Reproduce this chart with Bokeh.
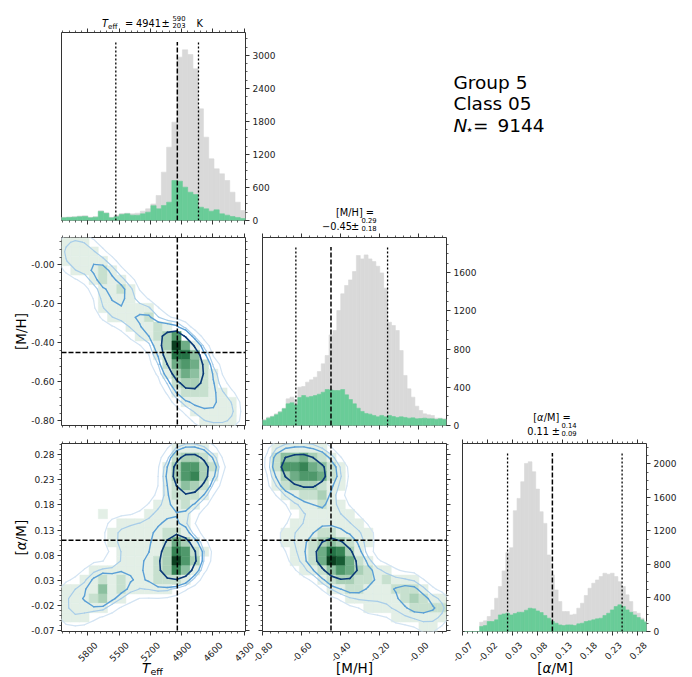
import numpy as np
from math import pi
from bokeh.plotting import figure
from bokeh.models import (Range1d, LinearAxis, FixedTicker, CustomJSTickFormatter, Span)
from bokeh.core.properties import value
from bokeh.embed import file_html
from bokeh.resources import INLINE

W, H = 692, 677
FONT = "DejaVu Sans"

# ------------------------------------------------------------------ data
teff_median, teff_plus, teff_minus = 4941, 590, 203
mh_median, mh_plus, mh_minus = -0.45, 0.29, 0.18
am_median, am_plus, am_minus = 0.11, 0.14, 0.09
n_stars = 9144

teff_range = (6052, 4287)
mh_range_x = (-0.801, 0.142)
mh_range_y = (-0.824, 0.14)
am_range_x = (-0.0705, 0.299)
am_range_y = (-0.071, 0.302)

teff_count_max = 3418
mh_count_max = 1969
am_count_max = 2243

# Teff histogram: 35 bins from 6052 K down to 4287 K
teff_edges = np.linspace(6052, 4287, 36)
teff_all = [58, 65, 70, 81, 87, 58, 70, 175, 140, 58, 95, 125, 133, 121, 133, 170,
            212, 300, 455, 879, 1333, 1788, 2970, 3103, 3018, 2757, 2030, 1515, 1121,
            939, 848, 727, 515, 333, 182]
teff_class = [48, 55, 60, 67, 73, 48, 60, 165, 130, 48, 70, 110, 121, 97, 97, 121,
              152, 270, 212, 273, 333, 727, 715, 606, 515, 473, 242, 212, 170, 194,
              121, 97, 73, 55, 36]

# [M/H] histogram: bins of 0.02 from -0.80
mh_edges = -0.80 + 0.02 * np.arange(48)
mh_all = [63, 87, 98, 122, 147, 181, 279, 297, 272, 401, 408, 454, 478, 506, 565, 646,
          733, 949, 995, 1204, 1379, 1466, 1525, 1612, 1780, 1745, 1787, 1745, 1717,
          1668, 1598, 1438, 1082, 1047, 995, 785, 524, 384, 297, 202, 157, 122, 112,
          105, 77, 77, 70]
mh_class = [52, 77, 91, 112, 140, 175, 227, 237, 216, 293, 314, 297, 304, 314, 328, 349,
            377, 373, 366, 366, 377, 321, 272, 227, 181, 147, 126, 119, 105, 91, 105,
            91, 105, 94, 84, 91, 84, 77, 80, 70, 73, 77, 70, 70, 63, 70, 63]

# [alpha/M] histogram: bins of 0.0075 from -0.066
am_edges = -0.066 + 0.0075 * np.arange(50)
am_all = [0, 0, 0, 0, 111, 127, 179, 258, 397, 536, 723, 941, 1000, 1441, 1588, 1787,
          2005, 2025, 1906, 1699, 1429, 1290, 913, 675, 496, 357, 238, 238, 198, 206,
          278, 337, 429, 516, 576, 615, 655, 695, 683, 695, 655, 595, 536, 437, 357,
          238, 218, 159, 119]
am_class = [0, 0, 0, 0, 60, 71, 119, 119, 139, 198, 210, 218, 198, 214, 230, 230, 254,
            278, 270, 246, 226, 191, 159, 119, 99, 79, 71, 79, 79, 71, 91, 99, 119, 127,
            139, 151, 159, 191, 218, 258, 298, 318, 298, 258, 230, 198, 167, 139, 111]

# 2D density grids (20 x 20, rows listed from top of panel, relative density 0-10)
grid_mh_teff = [
    [1, 1, 1, 0, 0, 0, 0, 0, 0, 0, 0, 0, 0, 0, 0, 0, 0, 0, 0, 0],
    [1, 1, 1, 1, 0, 0, 0, 0, 0, 0, 0, 0, 0, 0, 0, 0, 0, 0, 0, 0],
    [1, 1, 1, 1, 1, 0, 0, 0, 0, 0, 0, 0, 0, 0, 0, 0, 0, 0, 0, 0],
    [0, 1, 1, 1, 2, 1, 0, 0, 0, 0, 0, 0, 0, 0, 0, 0, 0, 0, 0, 0],
    [0, 0, 0, 1, 2, 1, 1, 0, 0, 0, 0, 0, 0, 0, 0, 0, 0, 0, 0, 0],
    [0, 0, 0, 0, 1, 1, 2, 1, 0, 0, 0, 0, 0, 0, 0, 0, 0, 0, 0, 0],
    [0, 0, 0, 0, 1, 1, 1, 1, 0, 0, 0, 0, 0, 0, 0, 0, 0, 0, 0, 0],
    [0, 0, 0, 0, 1, 1, 1, 1, 1, 1, 0, 0, 0, 0, 0, 0, 0, 0, 0, 0],
    [0, 0, 0, 0, 0, 1, 1, 1, 1, 2, 0, 0, 0, 0, 0, 0, 0, 0, 0, 0],
    [0, 0, 0, 0, 0, 0, 0, 1, 1, 1, 2, 1, 0, 0, 0, 0, 0, 0, 0, 0],
    [0, 0, 0, 0, 0, 0, 0, 0, 1, 1, 2, 3, 6, 0, 0, 0, 0, 0, 0, 0],
    [0, 0, 0, 0, 0, 0, 0, 0, 0, 0, 1, 3, 10, 5, 1, 0, 0, 0, 0, 0],
    [0, 0, 0, 0, 0, 0, 0, 0, 0, 0, 1, 2, 8, 8, 4, 0, 0, 0, 0, 0],
    [0, 0, 0, 0, 0, 0, 0, 0, 0, 0, 0, 2, 5, 6, 5, 2, 0, 0, 0, 0],
    [0, 0, 0, 0, 0, 0, 0, 0, 0, 0, 0, 1, 3, 5, 4, 2, 1, 0, 0, 0],
    [0, 0, 0, 0, 0, 0, 0, 0, 0, 0, 0, 0, 2, 3, 3, 2, 1, 0, 0, 0],
    [0, 0, 0, 0, 0, 0, 0, 0, 0, 0, 0, 0, 1, 2, 2, 2, 1, 1, 0, 0],
    [0, 0, 0, 0, 0, 0, 0, 0, 0, 0, 0, 0, 0, 1, 1, 1, 1, 1, 1, 0],
    [0, 0, 0, 0, 0, 0, 0, 0, 0, 0, 0, 0, 0, 0, 1, 1, 1, 1, 1, 0],
    [0, 0, 0, 0, 0, 0, 0, 0, 0, 0, 0, 0, 0, 0, 0, 1, 1, 1, 1, 0],
]
grid_am_teff = [
    [0, 0, 0, 0, 0, 0, 0, 0, 0, 0, 0, 0, 1, 1, 1, 1, 0, 0, 0, 0],
    [0, 0, 0, 0, 0, 0, 0, 0, 0, 0, 0, 0, 2, 3, 3, 2, 1, 0, 0, 0],
    [0, 0, 0, 0, 0, 0, 0, 0, 0, 0, 0, 1, 3, 6, 6, 3, 2, 0, 0, 0],
    [0, 0, 0, 0, 0, 0, 0, 0, 0, 0, 0, 1, 3, 6, 7, 3, 1, 0, 0, 0],
    [0, 0, 0, 0, 0, 0, 0, 0, 0, 0, 0, 1, 2, 4, 3, 2, 0, 0, 0, 0],
    [0, 0, 0, 0, 0, 0, 0, 0, 0, 0, 0, 1, 2, 2, 2, 1, 0, 0, 0, 0],
    [0, 0, 0, 0, 0, 0, 0, 0, 0, 0, 1, 1, 1, 2, 1, 0, 0, 0, 0, 0],
    [0, 0, 0, 0, 1, 0, 0, 0, 0, 1, 1, 1, 1, 1, 0, 0, 0, 0, 0, 0],
    [0, 0, 0, 0, 0, 0, 1, 1, 1, 1, 1, 1, 1, 1, 0, 0, 0, 0, 0, 0],
    [0, 0, 0, 0, 0, 1, 1, 1, 1, 1, 1, 2, 2, 1, 0, 0, 0, 0, 0, 0],
    [0, 0, 0, 0, 0, 1, 1, 1, 1, 1, 1, 2, 5, 3, 1, 0, 0, 0, 0, 0],
    [0, 0, 0, 0, 0, 0, 1, 1, 1, 1, 1, 3, 7, 6, 2, 1, 0, 0, 0, 0],
    [0, 0, 0, 0, 0, 0, 1, 1, 1, 1, 2, 3, 10, 6, 3, 0, 0, 0, 0, 0],
    [0, 0, 0, 1, 1, 1, 1, 1, 1, 1, 2, 3, 7, 4, 1, 0, 0, 0, 0, 0],
    [0, 0, 1, 1, 2, 1, 2, 1, 1, 1, 2, 2, 2, 1, 0, 0, 0, 0, 0, 0],
    [1, 1, 1, 1, 4, 1, 2, 1, 1, 1, 1, 1, 0, 0, 0, 0, 0, 0, 0, 0],
    [1, 1, 1, 2, 3, 1, 1, 0, 0, 0, 0, 0, 0, 0, 0, 0, 0, 0, 0, 0],
    [1, 1, 1, 1, 1, 0, 0, 0, 0, 0, 0, 0, 0, 0, 0, 0, 0, 0, 0, 0],
    [1, 1, 1, 0, 0, 0, 0, 0, 0, 0, 0, 0, 0, 0, 0, 0, 0, 0, 0, 0],
    [0, 0, 0, 0, 0, 0, 0, 0, 0, 0, 0, 0, 0, 0, 0, 0, 0, 0, 0, 0],
]
grid_am_mh = [
    [0, 1, 1, 1, 1, 1, 1, 0, 0, 0, 0, 0, 0, 0, 0, 0, 0, 0, 0, 0],
    [0, 2, 4, 4, 5, 3, 2, 1, 0, 0, 0, 0, 0, 0, 0, 0, 0, 0, 0, 0],
    [0, 2, 6, 6, 7, 5, 4, 2, 1, 0, 0, 0, 0, 0, 0, 0, 0, 0, 0, 0],
    [0, 1, 3, 5, 6, 6, 5, 2, 1, 0, 0, 0, 0, 0, 0, 0, 0, 0, 0, 0],
    [0, 1, 2, 3, 3, 3, 2, 1, 1, 0, 0, 0, 0, 0, 0, 0, 0, 0, 0, 0],
    [0, 0, 1, 1, 2, 2, 3, 1, 0, 0, 0, 0, 0, 0, 0, 0, 0, 0, 0, 0],
    [0, 0, 0, 1, 1, 1, 2, 1, 1, 0, 0, 0, 0, 0, 0, 0, 0, 0, 0, 0],
    [0, 0, 0, 0, 1, 1, 1, 1, 1, 1, 0, 0, 0, 0, 0, 0, 0, 0, 0, 0],
    [0, 0, 0, 1, 1, 1, 1, 1, 1, 1, 1, 0, 0, 0, 0, 0, 0, 0, 0, 0],
    [0, 0, 1, 1, 1, 1, 2, 2, 1, 1, 1, 1, 0, 0, 0, 0, 0, 0, 0, 0],
    [0, 0, 1, 1, 1, 2, 3, 4, 3, 2, 1, 1, 0, 0, 0, 0, 0, 0, 0, 0],
    [0, 0, 0, 1, 1, 2, 5, 8, 7, 3, 1, 0, 0, 0, 0, 0, 0, 0, 0, 0],
    [0, 0, 0, 1, 1, 2, 5, 10, 9, 5, 2, 1, 0, 0, 0, 0, 0, 0, 0, 0],
    [0, 0, 0, 0, 1, 1, 2, 4, 6, 5, 3, 2, 1, 1, 0, 0, 0, 0, 0, 0],
    [0, 0, 0, 0, 0, 0, 1, 2, 3, 3, 2, 2, 1, 2, 1, 1, 1, 0, 0, 0],
    [0, 0, 0, 0, 0, 0, 0, 1, 1, 2, 2, 1, 1, 1, 2, 2, 2, 1, 0, 0],
    [0, 0, 0, 0, 0, 0, 0, 0, 0, 1, 1, 1, 1, 1, 1, 2, 3, 2, 1, 1],
    [0, 0, 0, 0, 0, 0, 0, 0, 0, 0, 0, 1, 1, 1, 1, 1, 2, 2, 2, 2],
    [0, 0, 0, 0, 0, 0, 0, 0, 0, 0, 0, 0, 0, 0, 1, 1, 1, 1, 1, 1],
    [0, 0, 0, 0, 0, 0, 0, 0, 0, 0, 0, 0, 0, 0, 0, 0, 0, 1, 1, 0],
]

# tick definitions
teff_ticks = [5800, 5500, 5200, 4900, 4600, 4300]
teff_tick_labels = ["5800", "5500", "5200", "4900", "4600", "4300"]
mh_ticks = [-0.8, -0.6, -0.4, -0.2, 0.0]
mh_tick_labels = ["-0.80", "-0.60", "-0.40", "-0.20", "-0.00"]
am_ticks = [-0.07, -0.02, 0.03, 0.08, 0.13, 0.18, 0.23, 0.28]
am_tick_labels = ["-0.07", "-0.02", "0.03", "0.08", "0.13", "0.18", "0.23", "0.28"]
teff_count_ticks = [0, 600, 1200, 1800, 2400, 3000]
mh_count_ticks = [0, 400, 800, 1200, 1600]
am_count_ticks = [0, 400, 800, 1200, 1600, 2000]

teff_minor = list(np.arange(4240, 6100, 60))
mh_minor = list(np.round(np.arange(-0.84, 0.17, 0.04), 2))
am_minor = list(np.round(np.arange(-0.07, 0.31, 0.01), 2))

# ------------------------------------------------------------------ style
GREY = "#d9d9d9"
GREEN = "#69cc98"
TICK = "#333333"
CONTOUR_MASS = [0.393, 0.675, 0.865, 0.956]
CONTOUR_COLORS = ["#0b3a78", "#5a9fd6", "#a8cde9", "#d3e4f3"]
CONTOUR_WIDTHS = [1.6, 1.4, 1.2, 1.2]
CMAP_STOPS = [(0.0, (255, 255, 255)), (0.1, (227, 239, 230)), (0.25, (185, 216, 195)),
              (0.45, (125, 184, 148)), (0.65, (63, 141, 93)), (0.85, (29, 106, 62)),
              (1.0, (11, 63, 32))]

COL_LEFT = [61, 262, 462]
ROW_TOP = [32, 237, 443]
FW, FH = 184, 188
ABS = {"position": "absolute", "left": "0px", "top": "0px"}
BASE_SHIFT = 0.35   # em correction so that the given y is the glyph baseline


def cmap(v):
    v = min(max(v, 0.0), 1.0)
    for (a, ca), (b, cb) in zip(CMAP_STOPS[:-1], CMAP_STOPS[1:]):
        if v <= b:
            t = (v - a) / (b - a)
            c = [int(round(ca[k] + t * (cb[k] - ca[k]))) for k in range(3)]
            return "#%02x%02x%02x" % tuple(c)
    return "#0b3f20"


def blank_fig(xr, yr, left, right, top, bottom):
    p = figure(width=W, height=H, x_range=Range1d(*xr), y_range=Range1d(*yr), title=None,
               output_backend="svg", toolbar_location=None,
               x_axis_type=None, y_axis_type=None,
               min_border_left=left, min_border_right=right,
               min_border_top=top, min_border_bottom=bottom, styles=ABS)
    p.background_fill_color = None
    p.border_fill_color = None
    p.outline_line_color = None
    return p


def panel(xr, yr, col, row):
    left, top = COL_LEFT[col], ROW_TOP[row]
    p = blank_fig(xr, yr, left, W - left - FW, top, H - top - FH)
    p.outline_line_color = "#333333"
    p.outline_line_width = 1
    return p


def add_axis(p, side, ticks, minor, labels=None):
    ax = LinearAxis(ticker=FixedTicker(ticks=list(ticks), minor_ticks=list(minor)))
    ax.axis_line_color = None
    ax.major_tick_in = 0
    ax.major_tick_out = 4
    ax.minor_tick_in = 0
    ax.minor_tick_out = 2
    ax.major_tick_line_color = TICK
    ax.minor_tick_line_color = TICK
    ax.minor_tick_line_width = 0.8
    if labels is None:
        ax.formatter = CustomJSTickFormatter(code="return ''")
        ax.major_label_text_font_size = "1px"
    else:
        ax.major_label_overrides = {t: l for t, l in zip(ticks, labels)}
        ax.major_label_text_font = FONT
        ax.major_label_text_font_size = "9px"
        ax.major_label_text_color = "#222222"
        ax.major_label_standoff = 3
    p.add_layout(ax, side)


def label_strip(xr, col, ticks, labels):
    """45-degree tick labels under a bottom-row panel, on the panel's own x scale."""
    left = COL_LEFT[col]
    rpp = (xr[1] - xr[0]) / FW
    xs = (xr[0] - left * rpp, xr[1] + (W - left - FW) * rpp)
    top = ROW_TOP[2] + FH
    s = blank_fig(xs, (H - top, 0), 0, 0, top, 0)
    s.text(x=list(ticks), y=[12] * len(ticks), text=list(labels), angle=pi / 4,
           x_offset=8, text_align="right", text_baseline="middle",
           text_font=value(FONT), text_font_size="9px", text_color="#222222")
    return s


def hist_panel(edges, all_counts, class_counts, xr, ymax, col, row, xticks, xminor,
               yticks, yminor, median, plus, minus):
    p = panel(xr, (0, ymax), col, row)
    e = np.asarray(edges)
    n = len(all_counts)
    p.quad(left=e[:n], right=e[1:n + 1], bottom=0, top=all_counts,
           fill_color=GREY, line_color=GREY, line_width=0.6)
    p.quad(left=e[:n], right=e[1:n + 1], bottom=0, top=class_counts,
           fill_color=GREEN, line_color=GREEN, line_width=0.6)
    ytop = 0.95 * ymax
    p.segment(x0=[median], y0=[0], x1=[median], y1=[ytop], line_color="black",
              line_width=1.5, line_dash="5 2")
    lo, hi = median - minus, median + plus
    p.segment(x0=[lo, hi], y0=[0, 0], x1=[lo, hi], y1=[ytop, ytop], line_color="black",
              line_width=1.3, line_dash="2 2")
    add_axis(p, "below", xticks, xminor)
    add_axis(p, "above", xticks, xminor)
    add_axis(p, "right", yticks, yminor, [str(t) for t in yticks])
    return p


def smooth(Z, sigma=0.8):
    r = 3
    k = np.exp(-0.5 * (np.arange(-r, r + 1) / sigma) ** 2)
    k /= k.sum()
    Z = np.apply_along_axis(lambda v: np.convolve(v, k, mode="same"), 0, Z)
    Z = np.apply_along_axis(lambda v: np.convolve(v, k, mode="same"), 1, Z)
    return Z


def march(xc, yc, Z, level):
    x0s, y0s, x1s, y1s = [], [], [], []
    ny, nx = Z.shape
    for j in range(ny - 1):
        for i in range(nx - 1):
            z = [Z[j, i], Z[j, i + 1], Z[j + 1, i + 1], Z[j + 1, i]]
            pts = [(xc[i], yc[j]), (xc[i + 1], yc[j]), (xc[i + 1], yc[j + 1]), (xc[i], yc[j + 1])]
            cr = []
            for k in range(4):
                a, b = z[k], z[(k + 1) % 4]
                if (a >= level) != (b >= level):
                    t = (level - a) / (b - a)
                    pa, pb = pts[k], pts[(k + 1) % 4]
                    cr.append((pa[0] + t * (pb[0] - pa[0]), pa[1] + t * (pb[1] - pa[1])))
                else:
                    cr.append(None)
            got = [c for c in cr if c is not None]
            if len(got) == 2:
                x0s.append(got[0][0]); y0s.append(got[0][1])
                x1s.append(got[1][0]); y1s.append(got[1][1])
            elif len(got) == 4:
                centre = sum(z) / 4.0
                if (centre >= level) == (z[0] >= level):
                    pairs = [(0, 1), (2, 3)]
                else:
                    pairs = [(3, 0), (1, 2)]
                for a, b in pairs:
                    x0s.append(cr[a][0]); y0s.append(cr[a][1])
                    x1s.append(cr[b][0]); y1s.append(cr[b][1])
    return x0s, y0s, x1s, y1s


def density_panel(grid, xr, yr, col, row, xmed, ymed, xticks, xminor,
                  yticks, yminor, ylabels):
    p = panel(xr, yr, col, row)
    G = np.asarray(grid, dtype=float)
    nrow, ncol = G.shape
    xe = np.linspace(xr[0], xr[1], ncol + 1)
    ye = np.linspace(yr[1], yr[0], nrow + 1)   # top to bottom
    L, R, T, B, C = [], [], [], [], []
    gmax = G.max()
    for r in range(nrow):
        for c in range(ncol):
            if G[r, c] > 0:
                L.append(xe[c]); R.append(xe[c + 1]); T.append(ye[r]); B.append(ye[r + 1])
                C.append(cmap(G[r, c] / gmax))
    p.quad(left=L, right=R, top=T, bottom=B, fill_color=C, line_color=C, line_width=0.5)

    pad = 2
    Z = np.zeros((nrow + 2 * pad, ncol + 2 * pad))
    Z[pad:-pad, pad:-pad] = G[::-1]        # bottom row first
    Z = smooth(Z)
    dx = (xe[1] - xe[0])
    dy = (ye[0] - ye[1])
    xc = xe[0] + dx * (np.arange(ncol + 2 * pad) - pad + 0.5)
    yc = yr[0] + dy * (np.arange(nrow + 2 * pad) - pad + 0.5)
    flat = np.sort(Z.ravel())[::-1]
    cs = np.cumsum(flat)
    cs /= cs[-1]
    for m, colr, lw in list(zip(CONTOUR_MASS, CONTOUR_COLORS, CONTOUR_WIDTHS))[::-1]:
        lev = flat[min(np.searchsorted(cs, m), len(flat) - 1)]
        x0, y0, x1, y1 = march(xc, yc, Z, lev)
        p.segment(x0=x0, y0=y0, x1=x1, y1=y1, line_color=colr, line_width=lw,
                  line_cap="round")

    p.add_layout(Span(location=xmed, dimension="height", line_color="black",
                      line_width=1.5, line_dash="5 2"))
    p.add_layout(Span(location=ymed, dimension="width", line_color="black",
                      line_width=1.5, line_dash="5 2"))
    add_axis(p, "below", xticks, xminor)
    add_axis(p, "above", xticks, xminor)
    add_axis(p, "left", yticks, yminor, ylabels)
    add_axis(p, "right", yticks, yminor)
    return p


figs = []
figs.append(hist_panel(teff_edges, teff_all, teff_class, teff_range, teff_count_max, 0, 0,
                       teff_ticks, teff_minor, teff_count_ticks, list(range(0, 3450, 150)),
                       teff_median, teff_plus, teff_minus))
figs.append(hist_panel(mh_edges, mh_all, mh_class, mh_range_x, mh_count_max, 1, 1,
                       mh_ticks, mh_minor, mh_count_ticks, list(range(0, 2000, 100)),
                       mh_median, mh_plus, mh_minus))
figs.append(hist_panel(am_edges, am_all, am_class, am_range_x, am_count_max, 2, 2,
                       am_ticks, am_minor, am_count_ticks, list(range(0, 2300, 100)),
                       am_median, am_plus, am_minus))
figs.append(density_panel(grid_mh_teff, teff_range, mh_range_y, 0, 1, teff_median, mh_median,
                          teff_ticks, teff_minor, mh_ticks, mh_minor, mh_tick_labels))
figs.append(density_panel(grid_am_teff, teff_range, am_range_y, 0, 2, teff_median, am_median,
                          teff_ticks, teff_minor, am_ticks, am_minor, am_tick_labels))
figs.append(density_panel(grid_am_mh, mh_range_x, am_range_y, 1, 2, mh_median, am_median,
                          mh_ticks, mh_minor, am_ticks, am_minor, None))
figs.append(label_strip(teff_range, 0, teff_ticks, teff_tick_labels))
figs.append(label_strip(mh_range_x, 1, mh_ticks, mh_tick_labels))
figs.append(label_strip(am_range_x, 2, am_ticks, am_tick_labels))

# text overlay (page pixel coordinates, y downward)
ov = blank_fig((0, W), (H, 0), 0, 0, 0, 0)


def txt(x, y, s, size, style="normal", align="left", angle=0.0):
    px = float(size.replace("px", ""))
    if angle:
        x = x - BASE_SHIFT * px
    else:
        y = y - BASE_SHIFT * px
    ov.text(x=[x], y=[y], text=[s], text_font=value(FONT), text_font_size=value(size),
            text_font_style=value(style), text_align=value(align),
            text_baseline=value("alphabetic"), angle=angle, text_color="black")


TS = "9.8px"
SS = "6.8px"
txt(101.5, 26, "T", TS, "italic")
txt(107.5, 28.5, "eff", "7.2px")
txt(124.5, 26, "=", TS)
txt(135.5, 26, str(teff_median), TS)
txt(161, 26, "±", TS)
txt(172, 20.5, str(teff_plus), SS)
txt(172, 27.5, str(teff_minus), SS)
txt(196, 26, "K", TS)

txt(354.5, 215, "[M/H] =", TS, align="center")
txt(321.5, 229, "−%.2f" % abs(mh_median), TS)
txt(350.5, 229, "±", TS)
txt(361, 222.5, "%.2f" % mh_plus, SS)
txt(361, 230, "%.2f" % mh_minus, SS)

txt(532.7, 420, "[", TS)
txt(536.5, 420, "α", TS, "italic")
txt(543.2, 420, "/M] =", TS)
txt(526.7, 434, "%.2f" % am_median, TS)
txt(551.3, 434, "±", TS)
txt(561, 427.5, "%.2f" % am_plus, SS)
txt(561, 435.5, "%.2f" % am_minus, SS)

GS = "18.5px"
txt(453, 88, "Group 5", GS)
txt(453, 109.5, "Class 05", GS)
txt(453, 131.5, "N", GS, "italic")
txt(465, 134, "⋆", "13px")
txt(472.5, 131.5, "=", GS)
txt(497, 131.5, str(n_stars), GS)

LS = "13.5px"
txt(141.5, 672, "T", LS, "italic")
txt(150, 674.5, "eff", "9.5px")
txt(354, 672, "[M/H]", LS, align="center")
txt(536.7, 672, "[", LS)
txt(542, 672, "α", LS, "italic")
txt(551, 672, "/M]", LS)
txt(25, 331, "[M/H]", LS, align="center", angle=pi / 2)
txt(25, 555, "[", LS, angle=pi / 2)
txt(25, 549.7, "α", LS, "italic", angle=pi / 2)
txt(25, 540.8, "/M]", LS, angle=pi / 2)

figs.append(ov)

open("out.html", "w").write(file_html(figs, INLINE, title="corner"))
